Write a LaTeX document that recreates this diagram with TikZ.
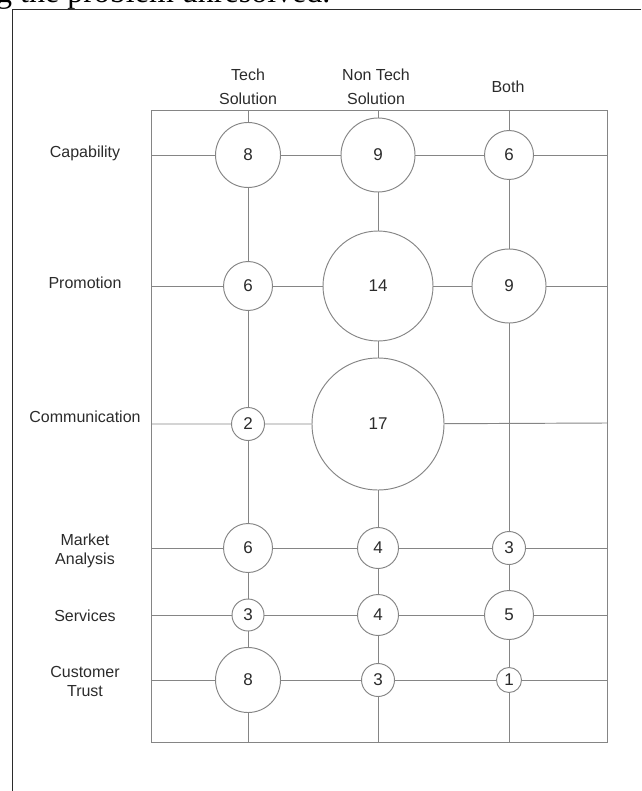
\documentclass[tikz,border=0pt]{standalone}
\usepackage{fontspec}
\setmainfont{Liberation Sans}
\newfontfamily\pagefont{Liberation Serif}
\usetikzlibrary{positioning}

\definecolor{gridgray}{HTML}{858585}
\definecolor{inkdark}{HTML}{2B2B2B}

\begin{document}
\begin{tikzpicture}[
				x=1pt,y=-1pt,
				gridline/.style={draw=gridgray,line width=0.95pt},
				bubble/.style={draw=gridgray,line width=0.95pt,fill=white,circle,inner sep=0pt,minimum size=#1,text=inkdark,font=\fontsize{17}{20}\selectfont},
				rowlabel/.style={text=inkdark,align=center,font=\fontsize{16}{19}\selectfont},
				collabel/.style={text=inkdark,align=center,font=\fontsize{16}{24}\selectfont}
			]
			\useasboundingbox (0,0) rectangle (641,791);
			% cut page text and page border
			\node[anchor=base west,inner sep=0pt,font=\pagefont\fontsize{32}{36}\selectfont] (pagetext) at (-4,3) {g the problem unresolved.};
			\draw[inkdark,line width=1.4pt] (641,9.5) -- (12.3,9.5) -- (12.3,791);

			% frame
			\draw[gridline] (151,110) rectangle (607,742);
			\coordinate (techT) at (248,110);
			\coordinate (techB) at (248,742);
			\coordinate (nonT) at (378,110);
			\coordinate (nonB) at (378,742);
			\coordinate (bothT) at (509,110);
			\coordinate (bothB) at (509,742);
			\coordinate (capL) at (151,155);
			\coordinate (capR) at (607,155);
			\coordinate (proL) at (151,286);
			\coordinate (proR) at (607,286);
			\coordinate (comL) at (151,424);
			\coordinate (comR) at (607,423);
			\coordinate (mktL) at (151,548);
			\coordinate (mktR) at (607,548);
			\coordinate (srvL) at (151,615);
			\coordinate (srvR) at (607,615);
			\coordinate (cusL) at (151,680);
			\coordinate (cusR) at (607,680);

			% column heads
			\node[collabel] (hTech) at (248,87) {Tech\\Solution};
			\node[collabel] (hNon) at (376,87) {Non Tech\\Solution};
			\node[collabel] (hBoth) at (508,87) {Both};

			% row heads
			\node[rowlabel] (lCap) at (85,153) {Capability};
			\node[rowlabel] (lPro) at (85,283) {Promotion};
			\node[rowlabel] (lCom) at (85,417) {Communication};
			\node[rowlabel] (lMkt) at (85,551) {Market\\Analysis};
			\node[rowlabel] (lSrv) at (85,616) {Services};
			\node[rowlabel] (lCus) at (85,681) {Customer\\Trust};

			% counts
			\node[bubble=65pt] (cap-t) at (248,155) {8};
			\node[bubble=74pt] (cap-n) at (378,155) {9};
			\node[bubble=49pt] (cap-b) at (509,155) {6};
			\node[bubble=49pt] (pro-t) at (248,286) {6};
			\node[bubble=110pt] (pro-n) at (378,286) {14};
			\node[bubble=74pt] (pro-b) at (509,286) {9};
			\node[bubble=33pt] (com-t) at (248,424) {2};
			\node[bubble=132pt] (com-n) at (378,424) {17};
			\node[bubble=49pt] (mkt-t) at (248,548) {6};
			\node[bubble=41pt] (mkt-n) at (378,548) {4};
			\node[bubble=33pt] (mkt-b) at (509,548) {3};
			\node[bubble=32pt] (srv-t) at (248,615) {3};
			\node[bubble=41pt] (srv-n) at (378,615) {4};
			\node[bubble=49pt] (srv-b) at (509,615) {5};
			\node[bubble=65pt] (cus-t) at (248,680) {8};
			\node[bubble=33pt] (cus-n) at (378,680) {3};
			\node[bubble=25pt] (cus-b) at (509,680) {1};

			% columns
			\draw[gridline] (techT) -- (cap-t) -- (pro-t) -- (com-t) -- (mkt-t) -- (srv-t) -- (cus-t) -- (techB);
			\draw[gridline] (nonT) -- (cap-n) -- (pro-n) -- (com-n) -- (mkt-n) -- (srv-n) -- (cus-n) -- (nonB);
			\draw[gridline] (bothT) -- (cap-b) -- (pro-b) -- (mkt-b) -- (srv-b) -- (cus-b) -- (bothB);

			% rows
			\draw[gridline] (capL) -- (cap-t) -- (cap-n) -- (cap-b) -- (capR);
			\draw[gridline] (proL) -- (pro-t) -- (pro-n) -- (pro-b) -- (proR);
			\draw[gridline] (comL) -- (com-t) -- (com-n) -- (comR);
			\draw[gridline] (mktL) -- (mkt-t) -- (mkt-n) -- (mkt-b) -- (mktR);
			\draw[gridline] (srvL) -- (srv-t) -- (srv-n) -- (srv-b) -- (srvR);
			\draw[gridline] (cusL) -- (cus-t) -- (cus-n) -- (cus-b) -- (cusR);
		\end{tikzpicture}
\end{document}
